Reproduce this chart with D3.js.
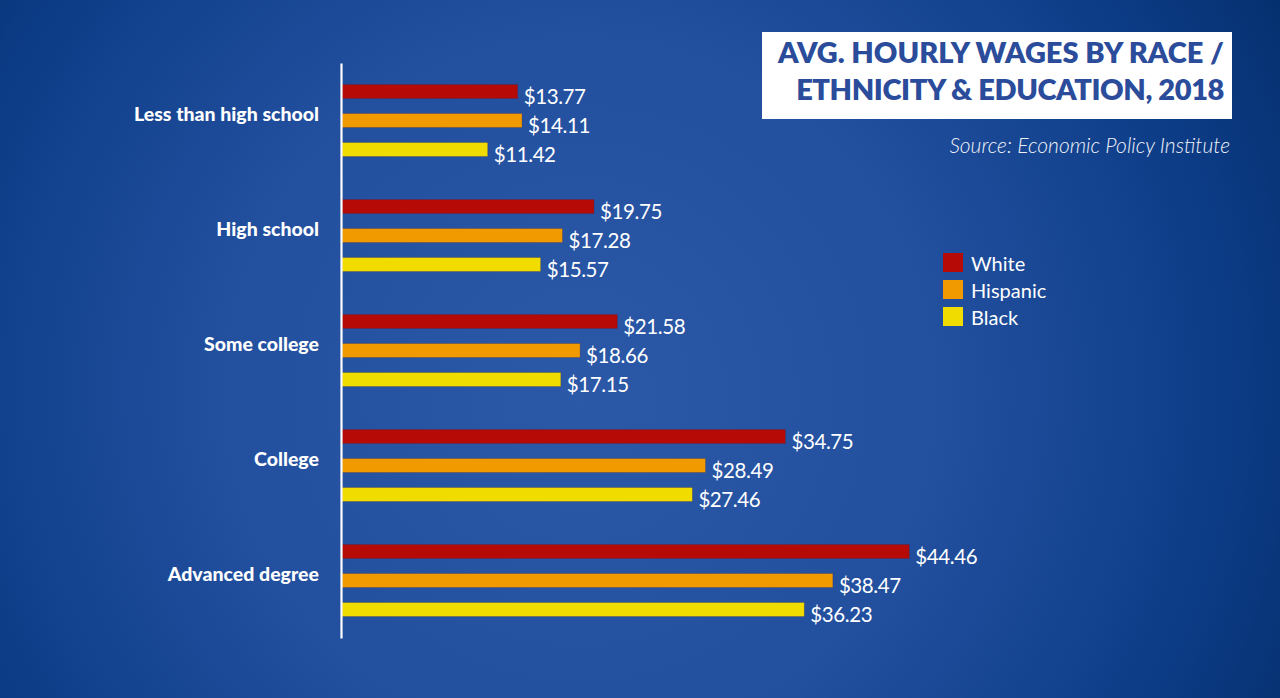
<!DOCTYPE html>
<html><head><meta charset="utf-8">
<script src="https://cdn.jsdelivr.net/npm/d3@7"></script>
<style>html,body{margin:0;padding:0;overflow:hidden;background:#1a4590;}svg{display:block;}</style>
</head><body>
<svg id="chart" width="1280" height="698"></svg>
<script>
const categories = ["Less than high school","High school","Some college","College","Advanced degree"];
const series = ["White","Hispanic","Black"];
const whiteValues = [13.77,19.75,21.58,34.75,44.46];
const hispanicValues = [14.11,17.28,18.66,28.49,38.47];
const blackValues = [11.42,15.57,17.15,27.46,36.23];
const seriesColors = ["#b50a06","#f09a00","#f1dc00"];
const titleLines = ["AVG. HOURLY WAGES BY RACE /","ETHNICITY & EDUCATION, 2018"];
const sourceText = "Source: Economic Policy Institute";

const valuesBySeries = [whiteValues, hispanicValues, blackValues];
const data = [];
categories.forEach((c,i)=>series.forEach((s,j)=>data.push({cat:c, ser:s, val:valuesBySeries[j][i], color:seriesColors[j]})));

const svg = d3.select("#chart");
const W=1280,H=698;
const defs = svg.append("defs");
const rg = defs.append("radialGradient").attr("id","bg").attr("gradientUnits","userSpaceOnUse")
  .attr("cx",580).attr("cy",380).attr("r",800).attr("fx",580).attr("fy",400);
rg.append("stop").attr("offset","0").attr("stop-color","#2b58a7");
rg.append("stop").attr("offset","0.45").attr("stop-color","#22509f");
rg.append("stop").attr("offset","0.8").attr("stop-color","#0d3c87");
rg.append("stop").attr("offset","1").attr("stop-color","#05306f");
svg.append("rect").attr("width",W).attr("height",H).attr("fill","url(#bg)");

const y = d3.scaleBand().domain(categories).range([63,638]);
const yi = d3.scalePoint().domain(series).range([-29,29]);
const x = d3.scaleLinear().domain([0,45]).range([342,342+45*12.76]);
const barH = 14;

const g = svg.append("g");
g.selectAll("rect.bar").data(data).join("rect").attr("class","bar")
  .attr("x",x(0)).attr("y",d=>y(d.cat)+y.bandwidth()/2+yi(d.ser)-barH/2)
  .attr("width",d=>x(d.val)-x(0)).attr("height",barH)
  .attr("fill",d=>d.color).attr("stroke","rgba(60,40,90,0.35)").attr("stroke-width",0.8);

g.selectAll("text.val").data(data).join("text").attr("class","val")
  .attr("x",d=>x(d.val)+6).attr("y",d=>y(d.cat)+y.bandwidth()/2+yi(d.ser)+4)
  .attr("dominant-baseline","central")
  .attr("fill","#ffffff").attr("font-family","Lato, 'Open Sans', sans-serif")
  .attr("font-size",20.5).attr("letter-spacing","-0.4")
  .text(d=>"$"+d3.format(".2f")(d.val));

// axis (category) with line
const axis = d3.axisLeft(y).tickSize(0).tickPadding(22);
const ag = svg.append("g").attr("transform",`translate(${x(0)-1},0)`).call(axis);
ag.select(".domain").attr("stroke","#ffffff").attr("stroke-width",2.2);
ag.selectAll(".tick text").attr("fill","#ffffff").attr("font-family","Lato, sans-serif")
  .attr("font-weight",900).attr("font-size",19.5)
  .attr("transform","translate(0,-6)");

// title box
svg.append("rect").attr("x",762).attr("y",32).attr("width",470).attr("height",87)
  .attr("fill","#ffffff");
svg.append("g").selectAll("text").data(titleLines).join("text")
  .attr("x",1224).attr("y",(d,i)=>63+i*37).attr("text-anchor","end")
  .attr("fill","#2a4c9b").attr("font-family","Lato, sans-serif").attr("font-weight",800)
  .attr("font-size",29).attr("letter-spacing",(d,i)=>i===1?"-0.4":"0").text(d=>d);
svg.append("text").attr("x",1230).attr("y",153).attr("text-anchor","end")
  .attr("fill","#eef2f8").attr("font-family","Lato, sans-serif").attr("font-weight",300)
  .attr("font-style","italic").attr("font-size",21).text(sourceText);

// legend
const lg = svg.append("g").attr("transform","translate(943,253)");
const li = lg.selectAll("g").data(series).join("g").attr("transform",(d,i)=>`translate(0,${i*27})`);
li.append("rect").attr("width",20).attr("height",19).attr("fill",(d,i)=>seriesColors[i]);
li.append("text").attr("x",28).attr("y",10).attr("dominant-baseline","central")
  .attr("fill","#ffffff").attr("font-family","Lato, sans-serif").attr("font-size",20).text(d=>d);
</script>
</body></html>
